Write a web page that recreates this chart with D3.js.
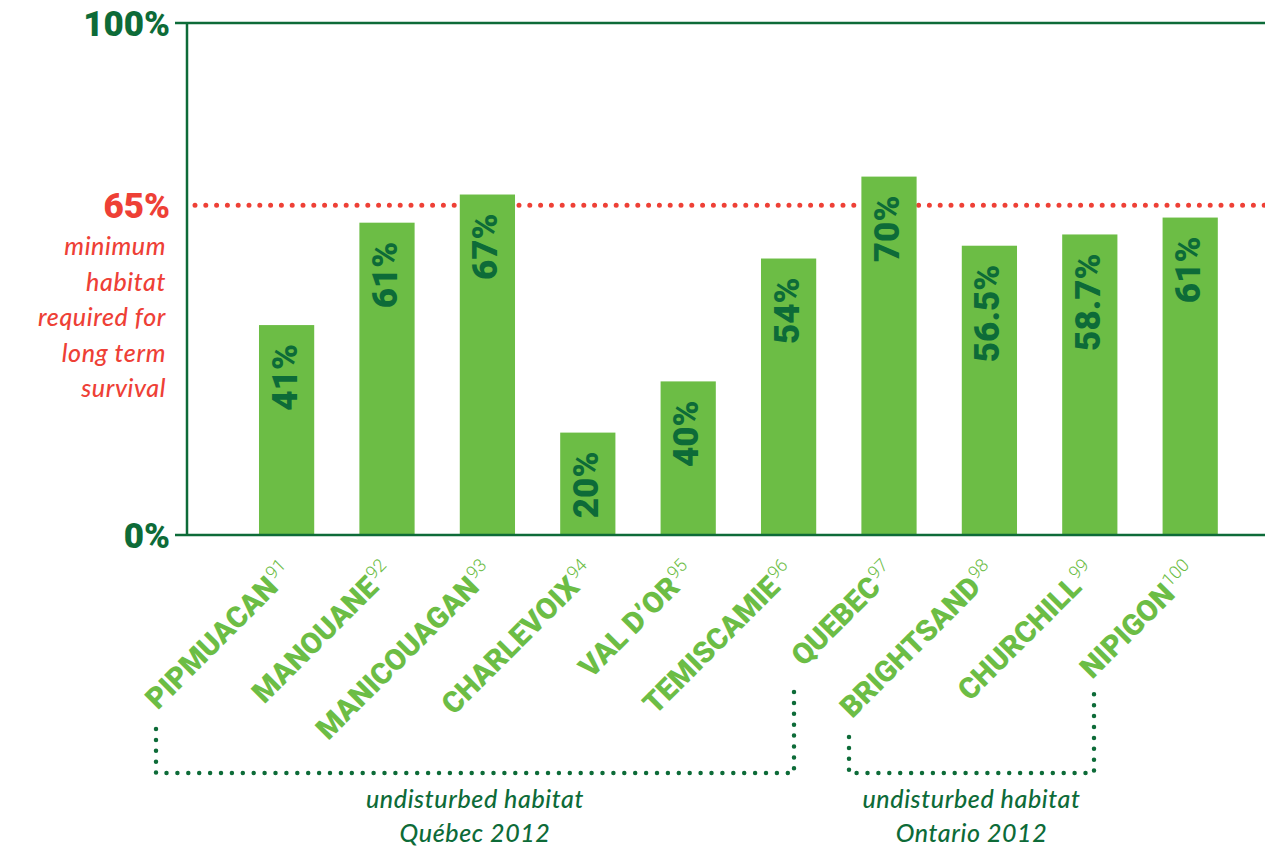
<!DOCTYPE html>
<html>
<head>
<meta charset="utf-8">
<script src="https://cdn.jsdelivr.net/npm/d3@7"></script>
<style>
  html, body { margin: 0; padding: 0; background: #ffffff; }
  svg { display: block; }
</style>
</head>
<body>
<svg id="chart" width="1265" height="850"></svg>
<script>
// ---- data ----
const categories = ["PIPMUACAN", "MANOUANE", "MANICOUAGAN", "CHARLEVOIX", "VAL D\u2019OR",
                    "TEMISCAMIE", "QUEBEC", "BRIGHTSAND", "CHURCHILL", "NIPIGON"];
const footnotes = ["91", "92", "93", "94", "95", "96", "97", "98", "99", "100"];
// bar heights as drawn in the picture (percent)
const values = [41, 61, 66.5, 20, 30, 54, 70, 56.5, 58.7, 62];
// labels printed on bars
const valueLabels = ["41%", "61%", "67%", "20%", "40%", "54%", "70%", "56.5%", "58.7%", "61%"];
const yTicks = [0, 100];
const yTickLabels = ["0%", "100%"];
const threshold = 65;
const thresholdLabel = "65%";
const thresholdNote = ["minimum", "habitat", "required for", "long term", "survival"];
const groups = [
  { first: 0, last: 5, lines: ["undisturbed habitat", "Qu\u00e9bec 2012"] },
  { first: 6, last: 9, lines: ["undisturbed habitat", "Ontario 2012"] }
];

// ---- style ----
const GREEN = "#6cbd45";
const DARK = "#0d6b38";
const RED = "#ee4036";
const HEAVY = "Roboto, 'Open Sans', sans-serif";
const ITAL = "Lato, 'Open Sans', sans-serif";

const svg = d3.select("#chart");

const x = d3.scaleBand().domain(categories).range([236.4, 1240.4])
  .paddingInner(0.45).paddingOuter(0.225);
const y = d3.scaleLinear().domain([0, 100]).range([535, 23]);

const axisX = 187;

// threshold dotted line (under bars)
svg.append("line")
  .attr("x1", axisX + 8).attr("x2", 1265)
  .attr("y1", y(threshold) + 3).attr("y2", y(threshold) + 3)
  .attr("stroke", RED).attr("stroke-width", 5)
  .attr("stroke-linecap", "round").attr("stroke-dasharray", "0 10.8");

// bars
svg.append("g").selectAll("rect").data(values).join("rect")
  .attr("x", (d, i) => x(categories[i]))
  .attr("width", x.bandwidth())
  .attr("y", d => y(d))
  .attr("height", d => y(0) - y(d))
  .attr("fill", GREEN);

// horizontal lines at ticks
svg.append("g").selectAll("line").data(yTicks).join("line")
  .attr("x1", 175).attr("x2", 1265)
  .attr("y1", d => y(d)).attr("y2", d => y(d))
  .attr("stroke", DARK).attr("stroke-width", 2.5);

// vertical axis
svg.append("line")
  .attr("x1", axisX).attr("x2", axisX)
  .attr("y1", y(100)).attr("y2", y(0))
  .attr("stroke", DARK).attr("stroke-width", 2.5);

// y tick labels
svg.append("g").selectAll("text").data(yTicks).join("text")
  .attr("x", 170).attr("y", d => y(d))
  .attr("dy", "0.36em")
  .attr("text-anchor", "end")
  .attr("font-family", HEAVY).attr("font-weight", 900)
  .attr("font-size", 35).attr("fill", DARK)
  .text((d, i) => yTickLabels[i]);

// threshold label
svg.append("text")
  .attr("x", 170).attr("y", y(threshold) + 3)
  .attr("dy", "0.36em").attr("text-anchor", "end")
  .attr("font-family", HEAVY).attr("font-weight", 900)
  .attr("font-size", 35).attr("fill", RED)
  .text(thresholdLabel);

svg.append("g").selectAll("text").data(thresholdNote).join("text")
  .attr("x", 166).attr("y", (d, i) => 255 + i * 35.5)
  .attr("text-anchor", "end")
  .attr("font-family", ITAL).attr("font-style", "italic")
  .attr("font-weight", 500)
  .attr("font-size", 25).attr("letter-spacing", 0.6).attr("fill", RED)
  .text(d => d);

// value labels on bars (rotated)
svg.append("g").selectAll("text").data(values).join("text")
  .attr("transform", (d, i) => {
    const cx = x(categories[i]) + x.bandwidth() / 2 + 10;
    const ty = y(d) + 19;
    return `translate(${cx},${ty}) rotate(-90)`;
  })
  .attr("text-anchor", "end")
  .attr("font-family", HEAVY).attr("font-weight", 900)
  .attr("font-size", 35).attr("fill", DARK)
  .text((d, i) => valueLabels[i]);

// category labels (rotated -45) with superscript footnotes
const cat = svg.append("g").selectAll("text").data(categories).join("text")
  .attr("transform", (d) => {
    const cx = x(d) + x.bandwidth() / 2 + 8;
    return `translate(${cx},${574}) rotate(-45)`;
  })
  .attr("text-anchor", "end")
  .attr("font-family", HEAVY).attr("font-weight", 900)
  .attr("font-size", 29.5).attr("fill", GREEN);
cat.append("tspan").text(d => d);
cat.append("tspan")
  .attr("font-weight", 300).attr("font-size", 18)
  .attr("dy", -11).attr("dx", 1)
  .text((d, i) => footnotes[i]);

// group brackets
const bracket = [
  { x1: 156, top1: 729, x2: 794, top2: 686 },
  { x1: 849, top1: 737, x2: 1094, top2: 692 }
];
const bottomY = 773;
groups.forEach((g, gi) => {
  const b = bracket[gi];
  const path = d3.path();
  path.moveTo(b.x1, b.top1);
  path.lineTo(b.x1, bottomY);
  path.lineTo(b.x2, bottomY);
  path.lineTo(b.x2, b.top2);
  svg.append("path").attr("d", path.toString())
    .attr("fill", "none").attr("stroke", DARK).attr("stroke-width", 4.5)
    .attr("stroke-linecap", "round").attr("stroke-dasharray", "0 10.9");
  const cx = (b.x1 + b.x2) / 2;
  svg.append("g").selectAll("text").data(g.lines).join("text")
    .attr("x", cx).attr("y", (d, i) => 808 + i * 34)
    .attr("text-anchor", "middle")
    .attr("font-family", ITAL).attr("font-style", "italic")
    .attr("font-weight", 500)
    .attr("font-size", 25).attr("letter-spacing", 0.6).attr("fill", DARK)
    .text(d => d);
});
</script>
</body>
</html>
